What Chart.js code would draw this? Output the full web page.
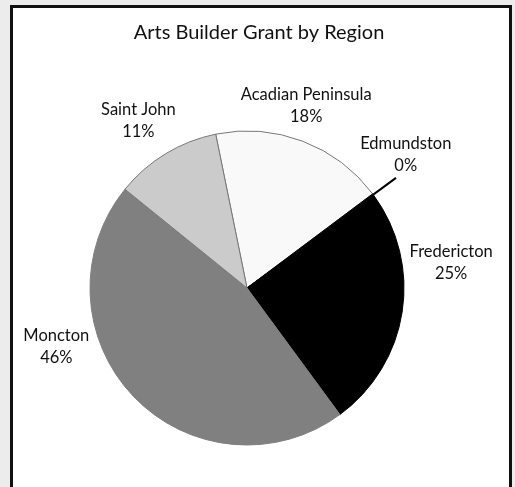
<!DOCTYPE html>
<html>
<head>
<meta charset="utf-8">
<script src="https://cdn.jsdelivr.net/npm/chart.js@4/dist/chart.umd.min.js"></script>
<style>
  body { margin: 0; background: #ececec; }
  #frame { position: absolute; left: 10px; top: 5px; width: 496px; height: 490px;
           border: 3px solid #111; border-bottom: none; background: #fff; }
</style>
</head>
<body>
<div id="frame"><canvas id="myChart" width="496" height="479"></canvas></div>
<script>
// DATA
const chartTitle = 'Arts Builder Grant by Region';
const regions = ['Acadian Peninsula', 'Edmundston', 'Fredericton', 'Moncton', 'Saint John'];
const shares = [18, 0.2, 25, 46, 11];
const sliceColors = ['#f9f9f9', '#000000', '#000000', '#808080', '#cbcbcb'];
const sliceBorders = ['#777777', '#000000', '#000000', '#808080', '#777777'];

// where each label sits: angle from 12 o'clock (deg) and distance in radii
const labelSpots = [
  { a: 18, d: 1.22 },
  { a: 50, d: 1.32 },
  { a: 83, d: 1.31 },
  { a: 253, d: 1.27 },
  { a: 327, d: 1.27 }
];

const FONT = 'Lato, "Open Sans", sans-serif';

// TITLE + OUTSIDE LABELS PLUGIN
const outsideLabels = {
  id: 'outsideLabels',
  afterDatasetsDraw(chart) {
    const ctx = chart.ctx;
    const meta = chart.getDatasetMeta(0);
    const data = chart.data.datasets[0].data;
    const total = data.reduce((a, b) => a + b, 0);
    ctx.save();
    ctx.fillStyle = '#111';
    ctx.textAlign = 'center';
    ctx.textBaseline = 'middle';
    // title centred on the frame, not the pie
    ctx.font = '20px ' + FONT;
    ctx.fillText(chartTitle, chart.width / 2 - 2, 25);

    ctx.font = '16.5px ' + FONT;
    meta.data.forEach((arc, i) => {
      const cx = arc.x, cy = arc.y, r = arc.outerRadius;
      const spot = labelSpots[i];
      const rad = spot.a * Math.PI / 180;
      const lx = cx + spot.d * r * Math.sin(rad);
      const ly = cy - spot.d * r * Math.cos(rad);
      const pct = Math.round(data[i] / total * 100) + '%';
      ctx.fillText(chart.data.labels[i], lx, ly - 11);
      ctx.fillText(pct, lx, ly + 11);
      // leader line for tiny slice
      if (data[i] / total < 0.01) {
        const mid = (arc.startAngle + arc.endAngle) / 2;
        ctx.strokeStyle = '#000';
        ctx.lineWidth = 2;
        ctx.beginPath();
        ctx.moveTo(cx + r * Math.cos(mid), cy + r * Math.sin(mid));
        ctx.lineTo(cx + r * 1.18 * Math.cos(mid), cy + r * 1.18 * Math.sin(mid));
        ctx.stroke();
      }
    });
    ctx.restore();
  }
};

const ctx = document.getElementById('myChart').getContext('2d');
const myChart = new Chart(ctx, {
  type: 'pie',
  data: {
    labels: regions,
    datasets: [{
      data: shares,
      backgroundColor: sliceColors,
      borderColor: sliceBorders,
      borderWidth: 1,
      radius: 157
    }]
  },
  options: {
    responsive: false,
    devicePixelRatio: 1,
    animation: false,
    rotation: -11.5,
    layout: { padding: { top: 81, right: 28, bottom: 0, left: 0 } },
    plugins: {
      legend: { display: false },
      tooltip: { enabled: false },
      title: { display: false }
    }
  },
  plugins: [outsideLabels]
});
</script>
</body>
</html>
